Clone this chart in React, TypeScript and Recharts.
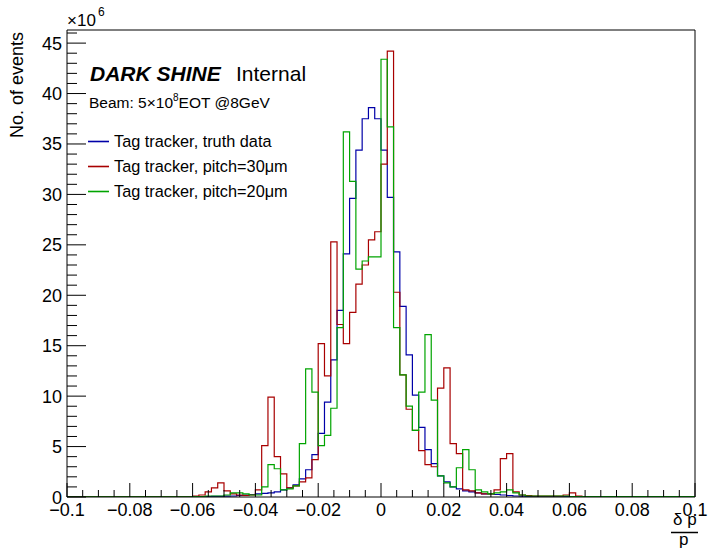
import React from "react";
import { LineChart, Line, XAxis, YAxis, ReferenceLine } from "recharts";

const FONT = "'Liberation Sans', Arial, Helvetica, sans-serif";

// Histogram binning: 100 bins from -0.1 to 0.1
const BIN_MIN = -0.1;
const BIN_WIDTH = 0.002;
const BIN_COUNT = 100;

// Values in units of 10^6 events
const truthData = [
  0.02, 0.02, 0.02, 0.02, 0.02, 0.02, 0.02, 0.02, 0.02, 0.02,
  0.02, 0.02, 0.02, 0.02, 0.02, 0.02, 0.02, 0.02, 0.02, 0.02,
  0.03, 0.04, 0.05, 0.06, 0.07, 0.09, 0.1, 0.15, 0.2, 0.25,
  0.3, 0.35, 0.4, 0.5, 0.7, 0.9, 1.2, 1.8, 2.7, 4.2,
  6.3, 9.4, 13.6, 18.5, 24.1, 29.6, 34.4, 37.5, 38.6, 37.5,
  34.4, 29.7, 24.3, 18.9, 14.1, 10.1, 6.9, 4.7, 3.3, 2.1,
  1.5, 1.0, 0.8, 0.6, 0.5, 0.4, 0.3, 0.3, 0.25, 0.2,
  0.15, 0.1, 0.08, 0.06, 0.05, 0.03, 0.03, 0.03, 0.03, 0.03,
  0.03, 0.03, 0.03, 0.03, 0.03, 0.03, 0.03, 0.03, 0.03, 0.03,
  0.03, 0.03, 0.03, 0.03, 0.03, 0.03, 0.03, 0.03, 0.03, 0.03,
];

const pitch30Data = [
  0.02, 0.02, 0.02, 0.02, 0.02, 0.02, 0.02, 0.02, 0.02, 0.02,
  0.02, 0.02, 0.02, 0.02, 0.02, 0.02, 0.02, 0.02, 0.02, 0.02,
  0.1, 0.2, 0.5, 0.9, 1.4, 0.6, 0.3, 0.2, 0.15, 0.2,
  0.7, 5.1, 9.9, 4.0, 2.3, 0.9, 1.1, 1.5, 1.9, 3.7,
  15.2, 12.0, 25.3, 17.1, 15.2, 18.3, 21.1, 23.0, 25.5, 26.3,
  33.0, 44.2, 20.3, 12.1, 8.7, 6.6, 4.6, 3.2, 3.0, 10.8,
  12.8, 5.3, 4.3, 0.7, 0.6, 0.4, 0.3, 0.3, 0.7, 3.8,
  4.3, 0.5, 0.2, 0.15, 0.1, 0.1, 0.1, 0.1, 0.1, 0.2,
  0.4, 0.1, 0.03, 0.03, 0.03, 0.03, 0.03, 0.03, 0.03, 0.03,
  0.03, 0.03, 0.03, 0.03, 0.03, 0.03, 0.03, 0.03, 0.03, 0.03,
];

const pitch20Data = [
  0.02, 0.02, 0.02, 0.02, 0.02, 0.02, 0.02, 0.02, 0.02, 0.02,
  0.02, 0.02, 0.02, 0.02, 0.02, 0.02, 0.02, 0.02, 0.02, 0.02,
  0.05, 0.05, 0.1, 0.1, 0.1, 0.2, 0.4, 0.4, 0.3, 0.2,
  0.2, 1.0, 3.2, 2.8, 0.7, 0.8, 1.1, 5.3, 12.7, 10.4,
  5.1, 6.1, 8.8, 16.8, 36.2, 31.3, 22.6, 23.4, 23.8, 23.8,
  43.4, 36.7, 16.8, 12.1, 9.0, 6.6, 10.4, 16.1, 9.6, 2.1,
  1.4, 1.0, 2.9, 4.7, 2.7, 0.7, 0.5, 0.3, 0.4, 0.5,
  0.7, 0.4, 0.2, 0.1, 0.1, 0.1, 0.1, 0.1, 0.1, 0.1,
  0.05, 0.05, 0.05, 0.05, 0.05, 0.05, 0.05, 0.05, 0.05, 0.05,
  0.05, 0.05, 0.05, 0.05, 0.05, 0.05, 0.05, 0.05, 0.05, 0.05,
];

const seriesNames = [
  "Tag tracker, truth data",
  "Tag tracker, pitch=30\u03bcm",
  "Tag tracker, pitch=20\u03bcm",
];
const seriesColors = ["#0000a8", "#a80000", "#00a400"];

const X_DOMAIN: [number, number] = [-0.1, 0.1];
const Y_DOMAIN: [number, number] = [0, 46.3];
const xMajorStep = 0.02;
const xMinorStep = 0.005;
const yMajorStep = 5;

const xTicks = Array.from({ length: 41 }, (_, i) => Number((-0.1 + i * xMinorStep).toFixed(3)));
const yTicks = Array.from({ length: 47 }, (_, i) => i);

const data = (() => {
  const rows: any[] = [];
  for (let i = 0; i <= BIN_COUNT; i++) {
    const k = Math.min(i, BIN_COUNT - 1);
    rows.push({
      x: Number((BIN_MIN + i * BIN_WIDTH).toFixed(3)),
      truth: truthData[k],
      p30: pitch30Data[k],
      p20: pitch20Data[k],
    });
  }
  return rows;
})();

const isMultiple = (v: number, step: number) => Math.abs(v / step - Math.round(v / step)) < 1e-6;

const fmtX = (v: number) => {
  if (Math.abs(v) < 1e-9) return "0";
  const s = Number(v.toFixed(2)).toString();
  return s.replace("-", "\u2212");
};

const XTick = (props: any) => {
  const { x, y, payload } = props;
  const v = payload.value as number;
  const major = isMultiple(v, xMajorStep);
  return (
    <g>
      <line x1={x} x2={x} y1={y} y2={y - (major ? 14 : 7)} stroke="#000" strokeWidth={1} />
      {major && (
        <text x={x} y={y + 19} textAnchor="middle" fontSize={18} fontFamily={FONT} fill="#000">
          {fmtX(v)}
        </text>
      )}
    </g>
  );
};

const YTick = (props: any) => {
  const { x, y, payload } = props;
  const v = payload.value as number;
  const major = isMultiple(v, yMajorStep);
  return (
    <g>
      <line x1={x} x2={x + (major ? 19 : 10)} y1={y} y2={y} stroke="#000" strokeWidth={1} />
      {major && (
        <text x={x - 5} y={y + 6.5} textAnchor="end" fontSize={18} fontFamily={FONT} fill="#000">
          {v}
        </text>
      )}
    </g>
  );
};

export default function App() {
  return (
    <div style={{ position: "absolute", left: 0, top: 0, width: 711, height: 551, background: "#fff" }}>
      <LineChart width={711} height={551} data={data} margin={{ top: 30, right: 16, bottom: 0, left: 0 }}>
        <XAxis
          dataKey="x"
          type="number"
          domain={X_DOMAIN}
          allowDataOverflow
          ticks={xTicks}
          interval={0}
          tick={<XTick />}
          tickLine={false}
          tickSize={0}
          tickMargin={0}
          height={54}
          axisLine={{ stroke: "#000" }}
        />
        <YAxis
          type="number"
          domain={Y_DOMAIN}
          allowDataOverflow
          ticks={yTicks}
          interval={0}
          tick={<YTick />}
          tickLine={false}
          tickSize={0}
          tickMargin={0}
          width={67}
          axisLine={{ stroke: "#000" }}
        />
        <ReferenceLine y={Y_DOMAIN[1]} stroke="#000" ifOverflow="extendDomain" />
        <ReferenceLine x={X_DOMAIN[1]} stroke="#000" ifOverflow="extendDomain" />
        <Line type="stepAfter" dataKey="truth" stroke={seriesColors[0]} strokeWidth={1.2} dot={false} isAnimationActive={false} />
        <Line type="stepAfter" dataKey="p30" stroke={seriesColors[1]} strokeWidth={1.2} dot={false} isAnimationActive={false} />
        <Line type="stepAfter" dataKey="p20" stroke={seriesColors[2]} strokeWidth={1.2} dot={false} isAnimationActive={false} />
      </LineChart>
      <svg
        width={711}
        height={551}
        style={{ position: "absolute", left: 0, top: 0, pointerEvents: "none" }}
        fontFamily={FONT}
      >
        <text x={67} y={26} fontSize={17} fill="#000">{"\u00d710"}</text>
        <text x={98} y={16} fontSize={12} fill="#000">6</text>
        <text transform="translate(23,32) rotate(-90)" textAnchor="end" fontSize={18} fill="#000">
          No. of events
        </text>
        <text x={90} y={81} fontSize={21} fontWeight="bold" fontStyle="italic" fill="#000">DARK SHINE</text>
        <text x={236} y={81} fontSize={21} fill="#000">Internal</text>
        <text x={89} y={108} fontSize={15.5} fill="#000">
          {"Beam: 5\u00d710"}
          <tspan fontSize={10} dy={-7}>8</tspan>
          <tspan dy={7}>EOT @8GeV</tspan>
        </text>
        {seriesNames.map((name, i) => (
          <g key={name}>
            <line x1={88} x2={109} y1={141.5 + i * 25} y2={141.5 + i * 25} stroke={seriesColors[i]} strokeWidth={1.6} />
            <text x={114} y={147.3 + i * 24.8} fontSize={16.3} fill="#000">{name}</text>
          </g>
        ))}
        <text x={673} y={525} fontSize={17} fill="#000">{"\u03b4 p"}</text>
        <line x1={671} x2={698} y1={532.5} y2={532.5} stroke="#000" strokeWidth={1.5} />
        <text x={679} y={545} fontSize={17} fill="#000">p</text>
      </svg>
    </div>
  );
}
